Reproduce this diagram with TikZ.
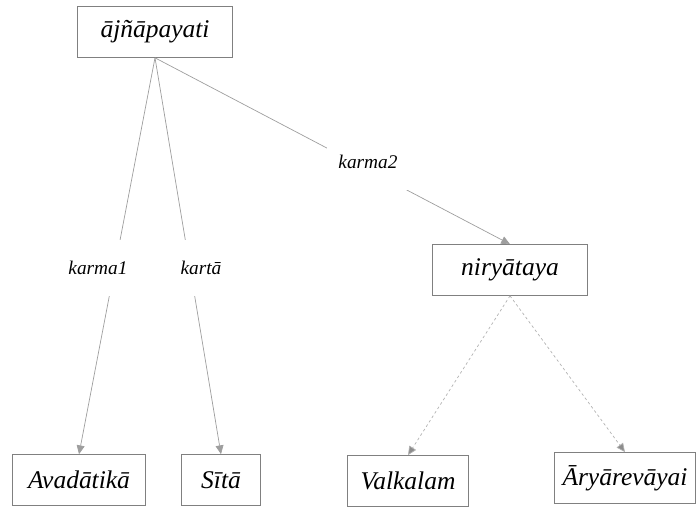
\documentclass[tikz,border=0pt]{standalone}
\usepackage{fontspec}
\setmainfont{Liberation Serif}
\usetikzlibrary{arrows.meta}
\tikzset{
  word/.style={draw=black!50,fill=white,minimum height=29pt,
    font=\itshape\fontsize{14.5}{17}\selectfont},
  rel/.style={fill=white,inner xsep=6.5pt,inner ysep=12pt,
    font=\itshape\fontsize{11}{13}\selectfont},
  dep/.style={draw=black!38,-{Triangle[length=5pt,width=4.5pt]}},
  weak/.style={draw=black!30,dash pattern=on 1.5pt off 1.5pt,
    -{Triangle[length=5pt,width=4.5pt,fill=black!45]}}
}
\begin{document}
\begin{tikzpicture}[x=0.02cm,y=-0.02cm]
\useasboundingbox (0,0) rectangle (698,509);
% words
\node[word,minimum width=88pt] (root) at (155,32) {ājñāpayati};
\node[word,minimum width=88.5pt] (nir) at (510,270) {niryātaya};
\node[word,minimum width=76pt] (ava) at (79,480) {Avadātikā};
\node[word,minimum width=45pt] (sita) at (221,480) {Sītā};
\node[word,minimum width=69pt] (val) at (408,481) {Valkalam};
\node[word,minimum width=80pt] (arya) at (625,478) {Āryārevāyai};
% relations
\draw[dep] (root.south) -- (ava.north);
\draw[dep] (root.south) -- (sita.north);
\draw[dep] (root.south) -- (nir.north);
\draw[weak] (nir.south) -- (val.north);
\draw[weak] (nir.south) -- (arya.north);
\node[rel] (k1) at (98,268) {karma1};
\node[rel] (kt) at (201,268) {kartā};
\node[rel] (k2) at (368,162) {karma2};
\end{tikzpicture}
\end{document}
